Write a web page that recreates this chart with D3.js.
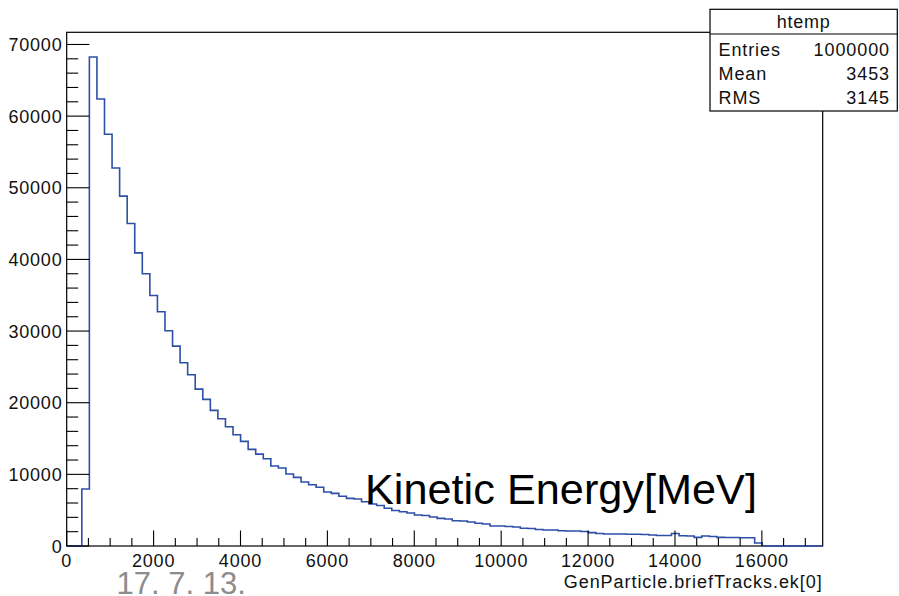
<!DOCTYPE html>
<html><head><meta charset="utf-8">
<script src="https://cdn.jsdelivr.net/npm/d3@7"></script>
<style>
html,body{margin:0;padding:0;background:#fff;}
svg{display:block;}
text{font-family:"Liberation Sans",Arial,Helvetica,sans-serif;}
</style></head>
<body>
<svg id="chart" width="899" height="596"></svg>
<script>
// ---- data ----
const binStart = 0;
const binWidth = 174;
const counts = [
  0, 0, 7950, 68260, 62400, 57470, 52770, 48830, 45020, 40920,
  37990, 34970, 32690, 30040, 27900, 25570, 23900, 21900, 20460, 18930,
  17760, 16650, 15530, 14600, 13490, 12830, 12180, 11160, 10880, 10040,
  9580, 8930, 8550, 8190, 7530, 7350, 6950, 6650, 6560, 6180,
  5860, 5650, 5260, 4950, 4790, 4600, 4320, 4250, 4050, 3860,
  3770, 3530, 3490, 3350, 3170, 3070, 2790, 2790, 2720, 2650,
  2470, 2440, 2300, 2230, 2230, 2130, 2090, 2090, 2020, 1860,
  1740, 1670, 1670, 1670, 1630, 1630, 1600, 1530, 1460, 1460,
  1740, 1440, 1390, 1210, 1390, 1330, 1210, 1190, 1190, 1160,
  1160, 420, 0, 0, 0, 0, 0, 0, 0, 0
];
const xTickLabels = [0, 2000, 4000, 6000, 8000, 10000, 12000, 14000, 16000];
const yTickLabels = [0, 10000, 20000, 30000, 40000, 50000, 60000, 70000];
const xDomain = [0, 17400];
const yDomain = [0, 71700];
const statsTitle = "htemp";
const statsRows = [["Entries", "1000000"], ["Mean", "3453"], ["RMS", "3145"]];
const xTitle = "GenParticle.briefTracks.ek[0]";
const overlayText = "Kinetic Energy[MeV]";
const dateText = "17. 7. 13.";

// ---- layout ----
const svg = d3.select("#chart");
const L = 66.7, R = 822.7, T = 32.3, B = 546;
const x = d3.scaleLinear().domain(xDomain).range([L, R]);
const y = d3.scaleLinear().domain(yDomain).range([B, T]);
const lineColor = "#2d4fa8";

svg.append("rect").attr("width", 899).attr("height", 596).attr("fill", "#fff");

// frame
svg.append("rect").attr("x", L).attr("y", T).attr("width", R - L).attr("height", B - T)
  .attr("fill", "none").attr("stroke", "#000").attr("stroke-width", 1.2);

// histogram
const pts = counts.map((c, i) => [binStart + i * binWidth, c]);
pts.push([binStart + counts.length * binWidth, counts[counts.length - 1]]);
const line = d3.line().x(d => x(d[0])).y(d => y(d[1])).curve(d3.curveStepAfter);
svg.append("path").datum(pts).attr("d", line)
  .attr("fill", "none").attr("stroke", lineColor).attr("stroke-width", 1.6);

// x axis ticks (inward)
const xMajLen = 15.5, xMinLen = 8;
const xMinor = d3.range(0, xDomain[1] + 1, 500);
svg.append("g").selectAll("line").data(xMinor).join("line")
  .attr("x1", d => x(d)).attr("x2", d => x(d))
  .attr("y1", B).attr("y2", d => B - (d % 2000 === 0 ? xMajLen : xMinLen))
  .attr("stroke", "#000").attr("stroke-width", 1.1);
svg.append("g").selectAll("text").data(xTickLabels).join("text")
  .attr("x", d => x(d)).attr("y", 566.5)
  .attr("text-anchor", "middle").attr("font-size", 18).attr("letter-spacing", "0.8px")
  .attr("fill", "#111").text(d => d);

// y axis ticks (inward)
const yMajLen = 22.7, yMinLen = 11.5;
const yMinor = d3.range(0, yDomain[1], 2000);
svg.append("g").selectAll("line").data(yMinor).join("line")
  .attr("x1", L).attr("x2", d => L + (d % 10000 === 0 ? yMajLen : yMinLen))
  .attr("y1", d => y(d)).attr("y2", d => y(d))
  .attr("stroke", "#000").attr("stroke-width", 1.1);
svg.append("g").selectAll("text").data(yTickLabels).join("text")
  .attr("x", 62.5).attr("y", d => y(d) + 6.5)
  .attr("text-anchor", "end").attr("font-size", 18).attr("letter-spacing", "0.8px")
  .attr("fill", "#111").text(d => d);

// x axis title
svg.append("text").attr("x", R).attr("y", 588)
  .attr("text-anchor", "end").attr("font-size", 18).attr("letter-spacing", "0.95px")
  .attr("fill", "#111").text(xTitle);

// stats box
const sb = {x: 710, y: 9.3, w: 187.3, h: 101.7};
svg.append("rect").attr("x", sb.x).attr("y", sb.y).attr("width", sb.w).attr("height", sb.h)
  .attr("fill", "#fff").attr("stroke", "#000").attr("stroke-width", 1.2);
svg.append("line").attr("x1", sb.x).attr("x2", sb.x + sb.w).attr("y1", 34).attr("y2", 34)
  .attr("stroke", "#000").attr("stroke-width", 1.2);
svg.append("text").attr("x", sb.x + sb.w / 2).attr("y", 28)
  .attr("text-anchor", "middle").attr("font-size", 18).attr("letter-spacing", "0.8px")
  .attr("fill", "#111").text(statsTitle);
const rowY = [55.5, 80, 104];
statsRows.forEach((r, i) => {
  svg.append("text").attr("x", 718.5).attr("y", rowY[i]).attr("font-size", 18)
    .attr("letter-spacing", "0.9px").attr("fill", "#111").text(r[0]);
  svg.append("text").attr("x", 890).attr("y", rowY[i]).attr("text-anchor", "end")
    .attr("font-size", 18).attr("letter-spacing", "0.9px").attr("fill", "#111").text(r[1]);
});

// overlay annotation
svg.append("text").attr("x", 365).attr("y", 504)
  .attr("font-family", "Lato, 'Open Sans', sans-serif").attr("font-size", 43)
  .attr("textLength", 392).attr("lengthAdjust", "spacingAndGlyphs")
  .attr("fill", "#000").text(overlayText);

// date
svg.append("text").attr("x", 116.5).attr("y", 594)
  .attr("font-size", 31).attr("fill", "#8c8c8c").text(dateText);
</script>
</body></html>
